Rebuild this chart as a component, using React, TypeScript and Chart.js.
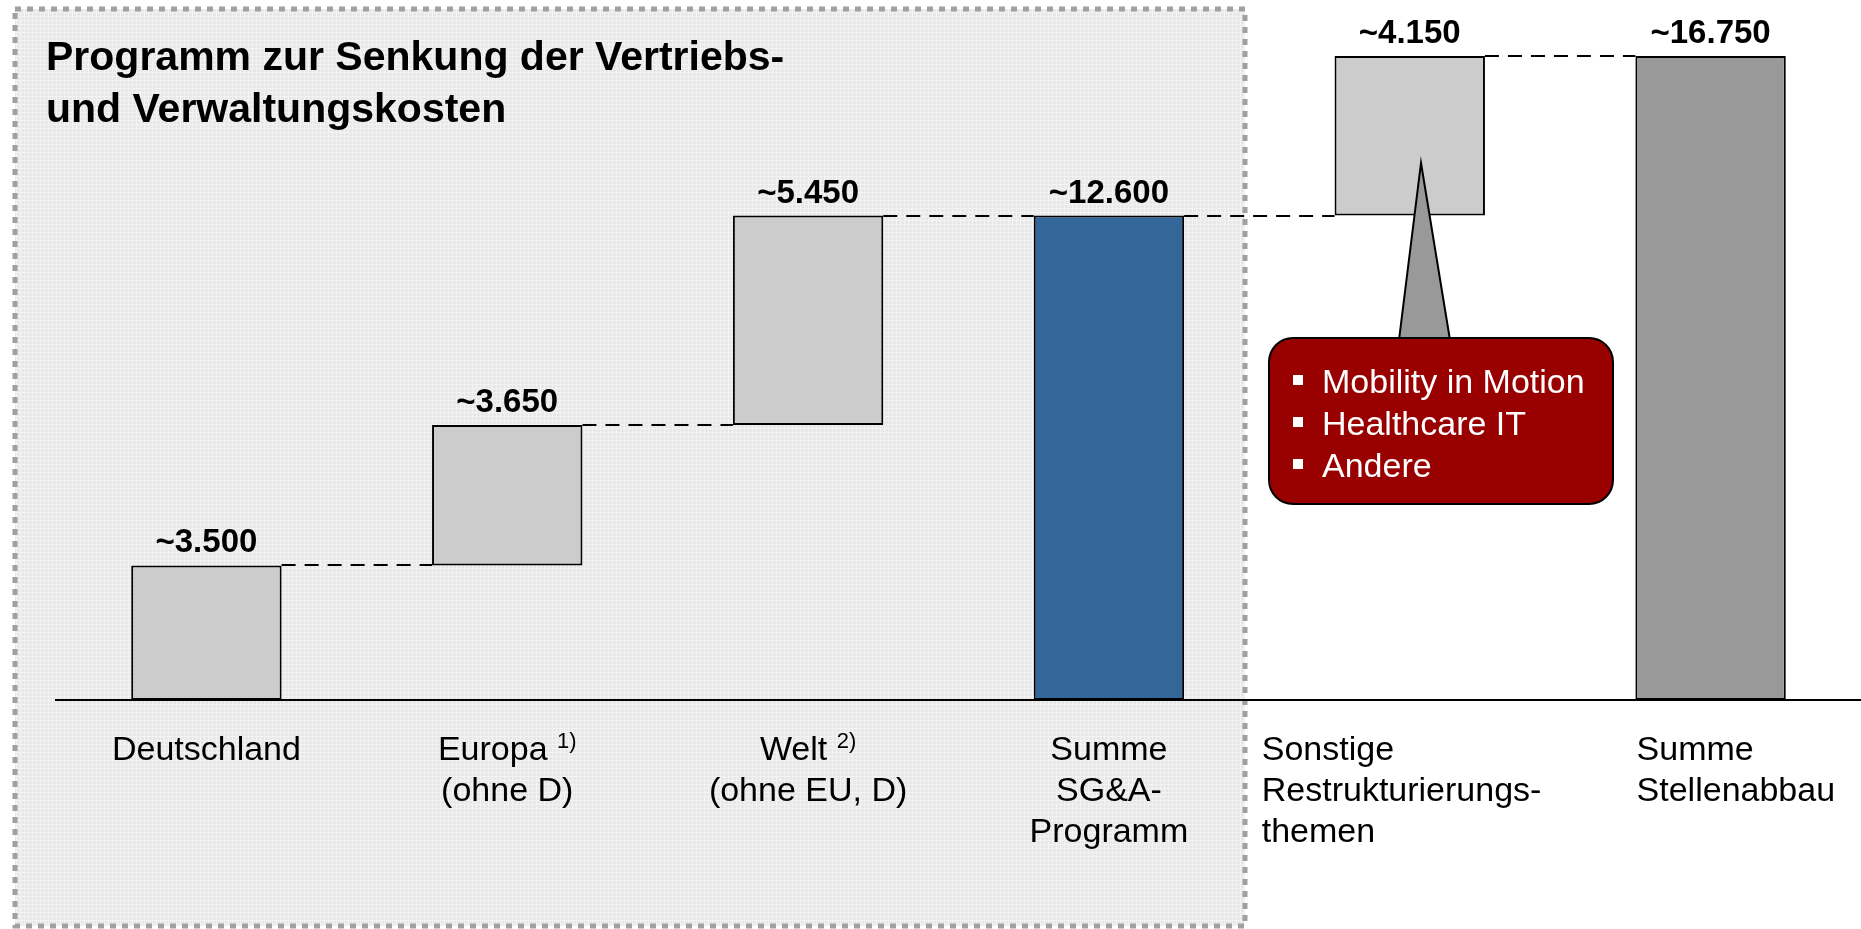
import React, { useEffect, useRef } from "react";
import { Chart, registerables } from "chart.js";

Chart.register(...registerables);

// ---------- data ----------
const categories: string[][] = [
  ["Deutschland"],
  ["Europa", "(ohne D)"],
  ["Welt", "(ohne EU, D)"],
  ["Summe", "SG&A-", "Programm"],
  ["Sonstige", "Restrukturierungs-", "themen"],
  ["Summe", "Stellenabbau"],
];
const footnotes: string[] = ["", "1)", "2)", "", "", ""];
const values: number[] = [3500, 3650, 5450, 12600, 4150, 16750];
const isTotal: boolean[] = [false, false, false, true, false, true];
const titleLines: string[] = ["Programm zur Senkung der Vertriebs-", "und Verwaltungskosten"];
const calloutItems: string[] = ["Mobility in Motion", "Healthcare IT", "Andere"];

// ---------- styles ----------
const FONT = '"Liberation Sans", Arial, Helvetica, sans-serif';
const barColors = ["#cccccc", "#cccccc", "#cccccc", "#336699", "#cccccc", "#999999"];
const labelAlign: ("center" | "left")[] = ["center", "center", "center", "center", "left", "left"];
const labelDx = [0, 0, 0, 0, -148, -74];

const fmt = (v: number) => "~" + String(v).replace(/\B(?=(\d{3})+(?!\d))/g, ".");

function buildRanges(): [number, number][] {
  let run = 0;
  return values.map((v, i) => {
    if (isTotal[i]) {
      run = v;
      return [0, v] as [number, number];
    }
    const r: [number, number] = [run, run + v];
    run += v;
    return r;
  });
}

const bgPlugin = {
  id: "bgPanel",
  beforeDraw(chart: any) {
    const ctx: CanvasRenderingContext2D = chart.ctx;
    ctx.save();
    const tile = document.createElement("canvas");
    tile.width = 4;
    tile.height = 4;
    const t = tile.getContext("2d")!;
    t.fillStyle = "#e8e8e8";
    t.fillRect(0, 0, 4, 4);
    t.fillStyle = "#f3f3f3";
    t.fillRect(0, 0, 4, 1);
    t.fillRect(0, 0, 1, 4);
    const pat = ctx.createPattern(tile, "repeat")!;
    ctx.fillStyle = pat;
    ctx.fillRect(15, 9, 1230, 917);
    ctx.strokeStyle = "#a0a0a0";
    ctx.lineWidth = 5;
    ctx.setLineDash([6, 6]);
    ctx.strokeRect(15, 9, 1230, 917);
    ctx.restore();
  },
};

const overlayPlugin = {
  id: "overlay",
  afterDatasetsDraw(chart: any) {
    const ctx: CanvasRenderingContext2D = chart.ctx;
    const xs = chart.scales.x;
    const ys = chart.scales.y;
    const meta = chart.getDatasetMeta(0);
    const ranges = buildRanges();
    const y0 = ys.getPixelForValue(0);
    ctx.save();

    // baseline
    ctx.strokeStyle = "#000";
    ctx.lineWidth = 2;
    ctx.setLineDash([]);
    ctx.beginPath();
    ctx.moveTo(55, y0);
    ctx.lineTo(chart.width, y0);
    ctx.stroke();

    // connectors
    ctx.setLineDash([14, 9]);
    for (let i = 0; i < ranges.length - 1; i++) {
      const a = meta.data[i];
      const b = meta.data[i + 1];
      const yy = Math.round(ys.getPixelForValue(ranges[i][1]));
      ctx.beginPath();
      ctx.moveTo(a.x + a.width / 2, yy);
      ctx.lineTo(b.x - b.width / 2, yy);
      ctx.stroke();
    }
    ctx.setLineDash([]);

    // value labels
    ctx.fillStyle = "#000";
    ctx.font = `bold 33px ${FONT}`;
    ctx.textAlign = "center";
    ctx.textBaseline = "alphabetic";
    values.forEach((v, i) => {
      const top = ys.getPixelForValue(ranges[i][1]);
      ctx.fillText(fmt(v), meta.data[i].x, top - 13);
    });

    // category labels
    categories.forEach((lines, i) => {
      const cx = xs.getPixelForValue(i);
      lines.forEach((line, k) => {
        const by = y0 + 60 + k * 41;
        ctx.font = `34px ${FONT}`;
        if (labelAlign[i] === "left") {
          ctx.textAlign = "left";
          ctx.fillText(line, cx + labelDx[i], by);
        } else if (k === 0 && footnotes[i]) {
          const wMain = ctx.measureText(line + " ").width;
          ctx.font = `22px ${FONT}`;
          const wSup = ctx.measureText(footnotes[i]).width;
          const start = cx - (wMain + wSup) / 2;
          ctx.textAlign = "left";
          ctx.fillText(footnotes[i], start + wMain, by - 12);
          ctx.font = `34px ${FONT}`;
          ctx.fillText(line, start, by);
        } else {
          ctx.textAlign = "center";
          ctx.fillText(line, cx, by);
        }
      });
    });

    // title
    ctx.textAlign = "left";
    ctx.font = `bold 41px ${FONT}`;
    titleLines.forEach((l, k) => ctx.fillText(l, 46, 70 + k * 52));

    // callout pointer
    ctx.beginPath();
    ctx.moveTo(1421, 163);
    ctx.lineTo(1450, 340);
    ctx.lineTo(1399, 340);
    ctx.closePath();
    ctx.fillStyle = "#999999";
    ctx.fill();
    ctx.lineWidth = 2;
    ctx.strokeStyle = "#000";
    ctx.stroke();

    // callout box
    ctx.beginPath();
    (ctx as any).roundRect(1269, 338, 344, 166, 24);
    ctx.fillStyle = "#990000";
    ctx.fill();
    ctx.lineWidth = 2;
    ctx.strokeStyle = "#000";
    ctx.stroke();

    ctx.fillStyle = "#ffffff";
    ctx.font = `34px ${FONT}`;
    ctx.textAlign = "left";
    calloutItems.forEach((t, k) => {
      const by = 393 + k * 42;
      ctx.fillRect(1293, by - 18, 10, 10);
      ctx.fillText(t, 1322, by);
    });

    ctx.restore();
  },
};

export default function App() {
  const ref = useRef<HTMLCanvasElement | null>(null);
  useEffect(() => {
    if (!ref.current) return;
    const chart = new Chart(ref.current, {
      type: "bar",
      data: {
        labels: categories.map((c) => c.join(" ")),
        datasets: [
          {
            data: buildRanges() as any,
            backgroundColor: barColors,
            borderColor: "#000000",
            borderWidth: 2,
            borderSkipped: false,
            barPercentage: 1,
            categoryPercentage: 0.5,
          },
        ],
      },
      options: {
        responsive: false,
        animation: false,
        devicePixelRatio: 1,
        layout: { padding: { left: 56, right: 0, top: 8, bottom: 229 } },
        scales: {
          x: { display: false },
          y: { display: false, min: 0, max: 18000 },
        },
        plugins: {
          legend: { display: false },
          tooltip: { enabled: false },
          title: { display: false },
        },
      },
      plugins: [bgPlugin, overlayPlugin],
    });
    return () => chart.destroy();
  }, []);
  return (
    <div style={{ position: "absolute", left: 0, top: 0, width: 1861, height: 929 }}>
      <canvas ref={ref} width={1861} height={929} style={{ display: "block" }} />
    </div>
  );
}
